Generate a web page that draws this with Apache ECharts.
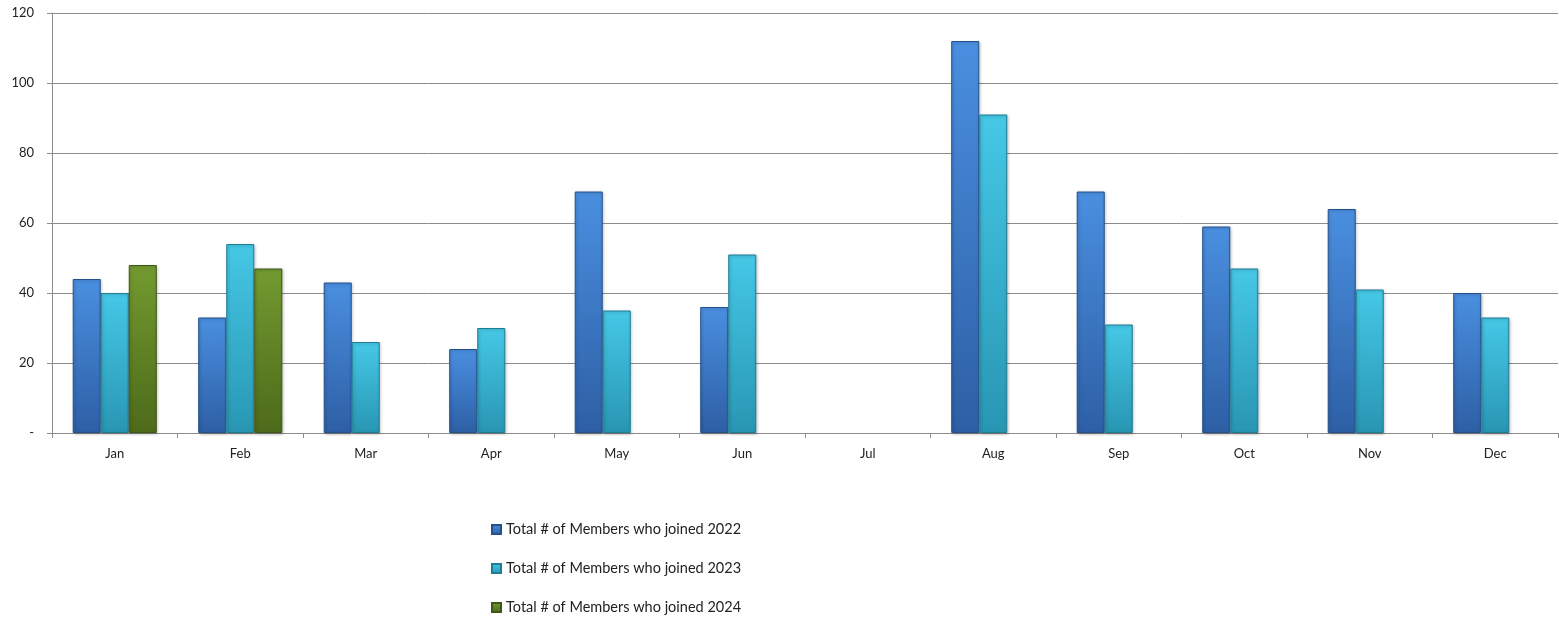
<!DOCTYPE html>
<html>
<head>
<meta charset="utf-8">
<script src="https://cdn.jsdelivr.net/npm/echarts@6/dist/echarts.min.js"></script>
<style>html,body{margin:0;padding:0;background:#fff}#c{width:1559px;height:618px}</style>
</head>
<body>
<div id="c"></div>
<script>
const categories = ['Jan','Feb','Mar','Apr','May','Jun','Jul','Aug','Sep','Oct','Nov','Dec'];
const seriesNames = ['Total # of Members who joined 2022','Total # of Members who joined 2023','Total # of Members who joined 2024'];
const joined2022 = [44, 33, 43, 24, 69, 36, null, 112, 69, 59, 64, 40];
const joined2023 = [40, 54, 26, 30, 35, 51, null, 91, 31, 47, 41, 33];
const joined2024 = [48, 47, null, null, null, null, null, null, null, null, null, null];
const yTicks = [0, 20, 40, 60, 80, 100, 120];

const palettes = [
  {top:'#4a8fe0', bottom:'#2d5fa5', border:'#24508c'},
  {top:'#45c8e6', bottom:'#2896b3', border:'#1f7d96'},
  {top:'#739a30', bottom:'#4d6a1a', border:'#3f5714'}
];
function grad(p){
  return new echarts.graphic.LinearGradient(0,0,0,1,[
    {offset:0, color:p.top},{offset:1, color:p.bottom}
  ]);
}
const dataSets = [joined2022, joined2023, joined2024];
const chart = echarts.init(document.getElementById('c'));
const font = 'Lato, "Open Sans", sans-serif';
chart.setOption({
  animation:false,
  textStyle:{fontFamily:font},
  grid:{left:52, right:1, top:13, bottom:185, containLabel:false},
  legend:{
    orient:'vertical', left:491, top:522, height:200, padding:0,
    icon:'rect', itemWidth:9, itemHeight:9, itemGap:24,
    textStyle:{fontFamily:font, fontSize:14.5, color:'#222', padding:[0,0,0,0]},
    data:seriesNames
  },
  xAxis:{
    type:'category', data:categories,
    axisLine:{lineStyle:{color:'#8c8c8c', width:1}},
    axisTick:{show:true, length:5, lineStyle:{color:'#8c8c8c'}},
    axisLabel:{fontFamily:font, fontSize:13, color:'#222', margin:14}
  },
  yAxis:{
    type:'value', min:yTicks[0], max:yTicks[yTicks.length-1], interval:20,
    axisLine:{show:true, lineStyle:{color:'#8c8c8c'}},
    axisTick:{show:true, length:5, lineStyle:{color:'#8c8c8c'}},
    splitLine:{lineStyle:{color:'#8c8c8c', width:1}},
    axisLabel:{fontFamily:font, fontSize:13, color:'#222', margin:18,
      formatter:v => v===0 ? '-' : String(v)}
  },
  series: seriesNames.map((n,i)=>({
    name:n, type:'bar', data:dataSets[i],
    barGap:'0%', barCategoryGap:'33%',
    itemStyle:{color:grad(palettes[i]), borderColor:palettes[i].border, borderWidth:1,
      shadowColor:'rgba(0,0,0,0.25)', shadowBlur:3, shadowOffsetX:1, shadowOffsetY:1}
  }))
});
</script>
</body>
</html>
